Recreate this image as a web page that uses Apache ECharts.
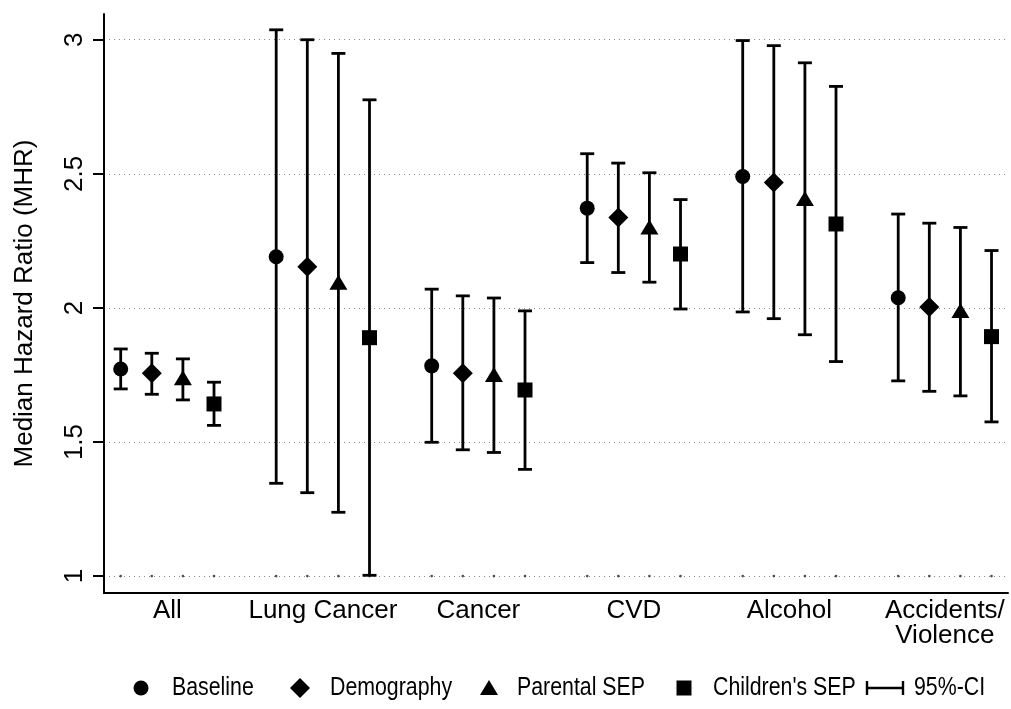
<!DOCTYPE html>
<html><head><meta charset="utf-8">
<script src="https://cdn.jsdelivr.net/npm/echarts@6/dist/echarts.min.js"></script>
<style>html,body{margin:0;padding:0;background:#fff}#c{width:1011px;height:709px}</style>
</head><body><div id="c"></div>
<script>
// ---- data ----
const categories = ['All', 'Lung Cancer', 'Cancer', 'CVD', 'Alcohol', 'Accidents/\nViolence'];
const seriesNames = ['Baseline', 'Demography', 'Parental SEP', "Children's SEP"];
const ciName = '95%-CI';
const baseline     = [1.772, 2.191, 1.784, 2.372, 2.490, 2.038];
const baselineLo   = [1.698, 1.346, 1.499, 2.169, 1.985, 1.728];
const baselineHi   = [1.847, 3.037, 2.070, 2.575, 2.997, 2.350];
const demography   = [1.756, 2.154, 1.756, 2.337, 2.468, 2.003];
const demographyLo = [1.678, 1.311, 1.471, 2.132, 1.960, 1.689];
const demographyHi = [1.831, 3.000, 2.045, 2.540, 2.978, 2.316];
const parental     = [1.740, 2.096, 1.752, 2.302, 2.408, 1.990];
const parentalLo   = [1.657, 1.238, 1.461, 2.096, 1.900, 1.672];
const parentalHi   = [1.810, 2.949, 2.037, 2.504, 2.914, 2.300];
const children     = [1.642, 1.889, 1.694, 2.201, 2.313, 1.893];
const childrenLo   = [1.562, 1.003, 1.398, 1.996, 1.800, 1.575];
const childrenHi   = [1.723, 2.776, 1.989, 2.404, 2.826, 2.214];
const yTicks = [1, 1.5, 2, 2.5, 3];
const refValue = 1;

// ---- build ----
const est = [baseline, demography, parental, children];
const lo = [baselineLo, demographyLo, parentalLo, childrenLo];
const hi = [baselineHi, demographyHi, parentalHi, childrenHi];
const stride = seriesNames.length + 1;
const xPos = (g, k) => g * stride + k;
const symbols = ['circle', 'diamond', 'triangle', 'rect'];
const symbolSizes = [15, [20, 20], [18, 15], 15];
const LW = 2.8;

const FONT = "'Liberation Sans', Arial, Helvetica, sans-serif";

const series = [];
const refData = [];
categories.forEach((c, g) => seriesNames.forEach((s, k) => refData.push([xPos(g, k), refValue])));
series.push({
  type: 'scatter', name: 'ref', data: refData, symbol: 'circle', symbolSize: 2.6,
  itemStyle: { color: '#222' }, silent: true, z: 1
});
seriesNames.forEach((name, k) => {
  series.push({
    type: 'custom', name: ciName, z: 3,
    itemStyle: { color: '#000' },
    encode: { x: 0, y: [1, 2] },
    data: categories.map((c, g) => [xPos(g, k), lo[k][g], hi[k][g]]),
    renderItem: function (params, api) {
      const x = api.value(0);
      const pLo = api.coord([x, api.value(1)]);
      const pHi = api.coord([x, api.value(2)]);
      const hw = 7;
      const st = { stroke: '#000', lineWidth: LW, fill: null };
      return {
        type: 'group', children: [
          { type: 'line', shape: { x1: pLo[0], y1: pLo[1], x2: pHi[0], y2: pHi[1] }, style: st },
          { type: 'line', shape: { x1: pLo[0] - hw, y1: pLo[1], x2: pLo[0] + hw, y2: pLo[1] }, style: st },
          { type: 'line', shape: { x1: pHi[0] - hw, y1: pHi[1], x2: pHi[0] + hw, y2: pHi[1] }, style: st }
        ]
      };
    }
  });
  series.push({
    type: 'scatter', name: name, z: 5,
    symbol: symbols[k], symbolSize: symbolSizes[k],
    itemStyle: { color: '#000', opacity: 1 },
    data: categories.map((c, g) => [xPos(g, k), est[k][g]])
  });
});

// ---- legend drawn as graphics (narrow text) ----
const LY = 688;
const legendIconX = [141, 300, 489, 684, 866];
const legendTextX = [172, 330, 517, 713, 914];
const legendNames = seriesNames.concat([ciName]);
const black = { fill: '#000' };
const graphics = [
  { type: 'circle', shape: { cx: legendIconX[0], cy: LY, r: 7.5 }, style: black },
  { type: 'polygon', shape: { points: [[legendIconX[1], LY - 10], [legendIconX[1] + 10, LY], [legendIconX[1], LY + 10], [legendIconX[1] - 10, LY]] }, style: black },
  { type: 'polygon', shape: { points: [[legendIconX[2], LY - 8], [legendIconX[2] + 9, LY + 7], [legendIconX[2] - 9, LY + 7]] }, style: black },
  { type: 'rect', shape: { x: legendIconX[3] - 7.5, y: LY - 7.5, width: 15, height: 15 }, style: black },
  { type: 'line', shape: { x1: legendIconX[4], y1: LY, x2: legendIconX[4] + 38, y2: LY }, style: { stroke: '#000', lineWidth: 2.4 } },
  { type: 'line', shape: { x1: legendIconX[4] + 1, y1: LY - 7, x2: legendIconX[4] + 1, y2: LY + 7 }, style: { stroke: '#000', lineWidth: 2.4 } },
  { type: 'line', shape: { x1: legendIconX[4] + 37, y1: LY - 7, x2: legendIconX[4] + 37, y2: LY + 7 }, style: { stroke: '#000', lineWidth: 2.4 } }
];
legendNames.forEach((n, i) => {
  graphics.push({
    type: 'text', x: legendTextX[i], y: LY, scaleX: 0.82, scaleY: 1,
    style: { text: n, fontFamily: FONT, fontSize: 26, fill: '#000', align: 'left', verticalAlign: 'middle' }
  });
});

const chart = echarts.init(document.getElementById('c'), null, { renderer: 'canvas' });
chart.setOption({
  backgroundColor: '#fff',
  animation: false,
  grid: { left: 104, right: 3, top: 14, bottom: 116, containLabel: false },
  graphic: graphics,
  xAxis: {
    type: 'value', min: -0.537, max: 28.53,
    axisLine: { show: true, onZero: false, lineStyle: { color: '#000', width: 2 } },
    axisTick: { show: false },
    splitLine: { show: false },
    axisLabel: {
      customValues: categories.map((c, g) => xPos(g, (seriesNames.length - 1) / 2)),
      formatter: v => categories[Math.round((v - (seriesNames.length - 1) / 2) / stride)],
      fontFamily: FONT, fontSize: 26, color: '#000', margin: 5, lineHeight: 25
    }
  },
  yAxis: {
    type: 'value', min: 0.937, max: 3.096,
    name: 'Median Hazard Ratio (MHR)', nameLocation: 'middle', nameRotate: 90, nameGap: 66,
    nameTextStyle: { fontFamily: FONT, fontSize: 26, color: '#000' },
    axisLine: { show: true, onZero: false, lineStyle: { color: '#000', width: 2 } },
    axisTick: { show: true, length: 11, customValues: yTicks, lineStyle: { color: '#000', width: 2 } },
    axisLabel: {
      customValues: yTicks, rotate: 90, margin: 16,
      fontFamily: FONT, fontSize: 26, color: '#000',
      formatter: v => String(v)
    },
    splitLine: { show: true, lineStyle: { color: '#888', width: 1, type: [1, 4] } }
  },
  series: series
});
</script>
</body></html>
